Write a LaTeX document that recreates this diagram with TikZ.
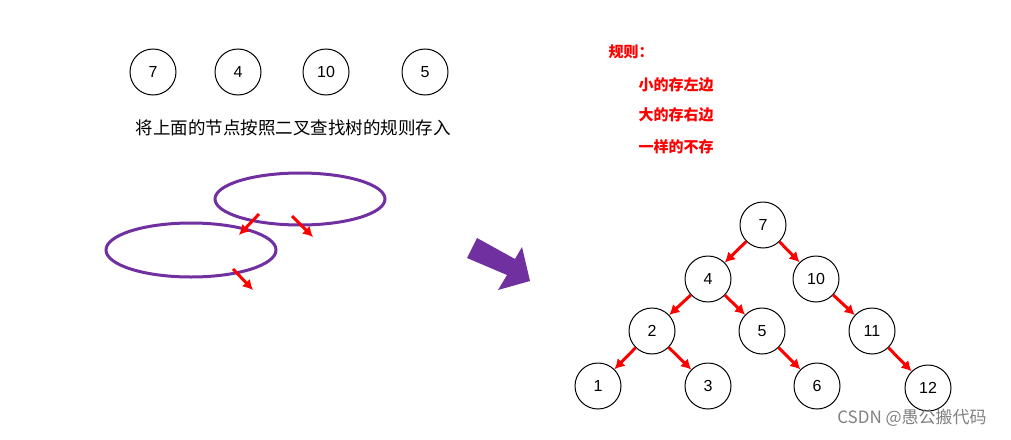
\documentclass[tikz,border=0pt]{standalone}
\usepackage{fontspec}
\setmainfont{Liberation Sans}
\newfontfamily\cjk{Noto Sans CJK SC}
\usetikzlibrary{arrows.meta}
\definecolor{purp}{RGB}{112,48,160}
\begin{document}
\begin{tikzpicture}[x=1pt,y=-1pt,
  nd/.style={draw,line width=1pt,circle,minimum size=46pt,inner sep=0pt,font=\fontsize{16}{16}\selectfont},
  ed/.style={red,line width=3pt,-{Latex[length=10pt,width=11pt]}},
  ell/.style={draw=purp,line width=3pt},
  rule/.style={red,font=\cjk\bfseries\fontsize{15}{15}\selectfont,anchor=west}]
\useasboundingbox (0,0) rectangle (1011,439);
\node[nd] (a7) at (153,72) {7};
\node[nd] (a4) at (238,72) {4};
\node[nd] (a10) at (326,72) {10};
\node[nd] (a5) at (425,72) {5};
\node[font=\cjk\fontsize{17.5}{17.5}\selectfont] (t) at (293,128) {将上面的节点按照二叉查找树的规则存入};
\draw[ell] (300,199) ellipse (85 and 26);
\draw[ell] (191,250) ellipse (85 and 27);
\coordinate (p1) at (259,214); \coordinate (q1) at (239,235);
\coordinate (p2) at (292,216); \coordinate (q2) at (313,237);
\coordinate (p3) at (233,269); \coordinate (q3) at (253,290);
\draw[ed] (p1)--(q1); \draw[ed] (p2)--(q2); \draw[ed] (p3)--(q3);
\fill[purp] (477,238)--(515,259)--(522,247)--(530,281)--(498,290)--(507,275)--(467,258)--cycle;
\node[rule] (r0) at (605,52) {规则：};
\node[rule] (r1) at (635,85) {小的存左边};
\node[rule] (r2) at (635,115) {大的存右边};
\node[rule] (r3) at (635,147) {一样的不存};
\node[nd] (n7) at (763,225) {7};
\node[nd] (n4) at (708,279) {4};
\node[nd] (n10) at (816,279) {10};
\node[nd] (n2) at (652,331) {2};
\node[nd] (n5) at (762,331) {5};
\node[nd] (n11) at (872,331) {11};
\node[nd] (n1) at (598,386) {1};
\node[nd] (n3) at (708,386) {3};
\node[nd] (n6) at (817,386) {6};
\node[nd] (n12) at (928,388) {12};
\foreach \u/\v in {n7/n4,n7/n10,n4/n2,n4/n5,n10/n11,n2/n1,n2/n3,n5/n6,n11/n12}
  \draw[ed] (\u)--(\v);
\node[gray,font=\cjk\fontsize{17}{17}\selectfont] (wm) at (912,418) {CSDN @愚公搬代码};
\end{tikzpicture}
\end{document}
